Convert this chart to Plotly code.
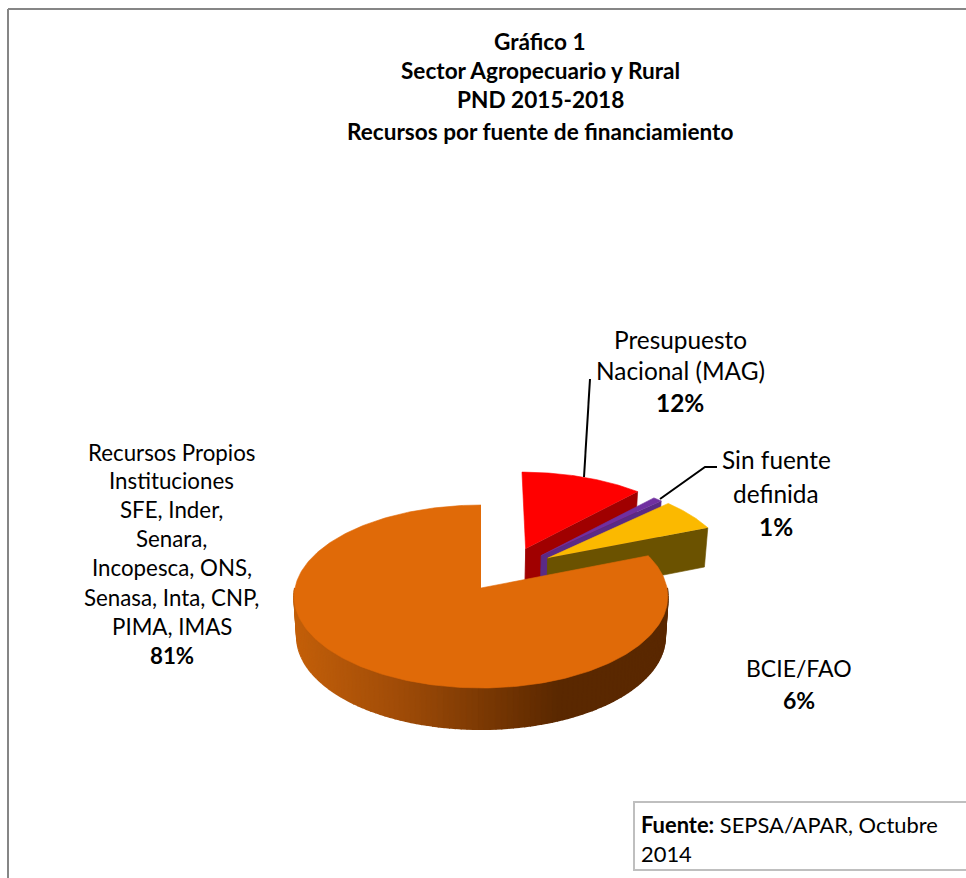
import numpy as np
import plotly.graph_objects as go

# Data
categories = ["Presupuesto Nacional (MAG)", "Sin fuente definida", "BCIE/FAO", "Recursos Propios Instituciones"]
shares = [12, 1, 6, 81]
top_colors = ["#ff0000", "#7030a0", "#fbb900", "#e06a08"]
side_colors = ["#a00000", "#5a2a85", "#6b5200", "#5a2800"]
explode_u = [0.25, 0.335, 0.37, 0.0]
explode_v = [-0.45, -0.37, -0.34, 0.0]

title_lines = ["Gráfico 1", "Sector Agropecuario y Rural", "PND 2015-2018", "Recursos por fuente de financiamiento"]

# Projection of the pie plane to the page
CX, CY, RX, A, K = 481.0, 588.0, 186.0, 90.7, 0.093
H = 40.0


def proj(u, v):
    u, v = np.asarray(u, float), np.asarray(v, float)
    d = 1 - K * v
    return CX + RX * u / d, CY + A * v / d


def proj_low(u, v):
    x, y = proj(u, v)
    return CX + (x - CX) * 0.985, y + H + 1.0 * np.asarray(v, float)


def arc(a0, a1, n=80):
    a = np.radians(np.linspace(a0, a1, n))
    return np.sin(a), -np.cos(a)


fig = go.Figure()


def poly(x, y, color, lw=0.6):
    fig.add_trace(go.Scatter(x=list(x), y=list(y), mode="lines", fill="toself", fillcolor=color,
                             line=dict(color=color, width=lw), hoverinfo="skip", showlegend=False))


total = sum(shares)
angles = np.cumsum([0] + [s / total * 360 for s in shares])

# small exploded slices, back to front
for i in range(3):
    a0, a1 = angles[i], angles[i + 1]
    eu, ev = explode_u[i], explode_v[i]
    su, sv = arc(a0, a1)
    su, sv = su + eu, sv + ev
    # cut face on the near side of the slice
    x0, y0 = proj([eu, su[-1]], [ev, sv[-1]])
    x1, y1 = proj_low([eu, su[-1]], [ev, sv[-1]])
    poly([x0[0], x0[1], x1[1], x1[0]], [y0[0], y0[1], y1[1], y1[0]], side_colors[i])
    # left cut face
    xa, ya = proj([eu, su[0]], [ev, sv[0]])
    xb, yb = proj_low([eu, su[0]], [ev, sv[0]])
    poly([xa[0], xb[0], xb[0] + 0.1, xa[0] + 0.1], [ya[0], yb[0], yb[0], ya[0]], side_colors[i])
    # top
    tx, ty = proj(np.r_[eu, su], np.r_[ev, sv])
    poly(tx, ty, top_colors[i])

# large slice: outer wall with shaded quads
a0, a1 = angles[3], angles[4]
wall_a = np.linspace(max(a0, 90), 270, 110)
ww = np.radians(wall_a)
wu, wv = np.sin(ww), -np.cos(ww)
xt, yt = proj(wu, wv)
xb, yb = proj_low(wu, wv)
stops_x = [293, 400, 480, 560, 667]
stops_c = [(196, 96, 10), (160, 76, 8), (125, 58, 4), (90, 40, 0), (90, 40, 0)]
for j in range(len(wall_a) - 1, 0, -1):
    xm = 0.5 * (xt[j] + xt[j - 1])
    col = "rgb(%d,%d,%d)" % tuple(int(np.interp(xm, stops_x, [c[k] for c in stops_c])) for k in range(3))
    poly([xt[j], xt[j - 1], xb[j - 1], xb[j]], [yt[j], yt[j - 1], yb[j - 1], yb[j]], col, 2)

su, sv = arc(a0, a1, 300)
tx, ty = proj(np.r_[0, su], np.r_[0, sv])
poly(tx, ty, top_colors[3])

# leader lines
for lx, ly in [([584, 590], [477, 379]), ([660, 705, 717], [499, 467, 467])]:
    fig.add_trace(go.Scatter(x=lx, y=ly, mode="lines", line=dict(color="#000000", width=2),
                             hoverinfo="skip", showlegend=False))

FONT = "Lato, Carlito, Calibri, sans-serif"


def text(x, y, s, size, anchor="center"):
    fig.add_annotation(x=x, y=y, xref="x", yref="y", text=s, showarrow=False, xanchor=anchor, yanchor="middle",
                       font=dict(family=FONT, size=size, color="#000000"))


for y, s in zip([41, 70, 99, 131], title_lines):
    text(540, y, "<b>%s</b>" % s, 22.6)

for y, s in zip([339, 370, 402], ["Presupuesto", "Nacional (MAG)", "<b>12%</b>"]):
    text(680, y, s, 24.4)
for y, s in zip([459, 493, 526], ["Sin fuente", "definida", "<b>1%</b>"]):
    text(776, y, s, 24.4)
for y, s in zip([668, 700], ["BCIE/FAO", "<b>6%</b>"]):
    text(799, y, s, 23)
left_lines = ["Recursos Propios", "Instituciones", "SFE, Inder,", "Senara,", "Incopesca, ONS,", "Senasa, Inta, CNP,",
              "PIMA, IMAS", "<b>81%</b>"]
for y, s in zip([452, 480, 509, 538, 567, 597, 626, 655], left_lines):
    text(171.5, y, s, 22.3)

text(639, 824, "<b>Fuente:</b> SEPSA/APAR, Octubre", 21.9, "left")
text(639, 853, "2014", 21.9, "left")

shapes = [
    dict(type="line", x0=8, x1=8, y0=9, y1=878, line=dict(color="#868686", width=2)),
    dict(type="line", x0=8, x1=966, y0=9, y1=9, line=dict(color="#868686", width=2)),
    dict(type="rect", x0=634, x1=970, y0=802, y1=870, line=dict(color="#bfbfbf", width=2), fillcolor="#ffffff", layer="below"),
]

fig.update_layout(
    width=966, height=878, autosize=False, margin=dict(l=0, r=0, t=0, b=0),
    paper_bgcolor="#ffffff", plot_bgcolor="#ffffff", showlegend=False, shapes=shapes,
    xaxis=dict(range=[0, 966], visible=False, fixedrange=True),
    yaxis=dict(range=[878, 0], visible=False, fixedrange=True),
)
fig.write_html("out.html", config={"displayModeBar": False},
               post_script="document.body.style.margin='0';document.body.style.overflow='hidden';")
